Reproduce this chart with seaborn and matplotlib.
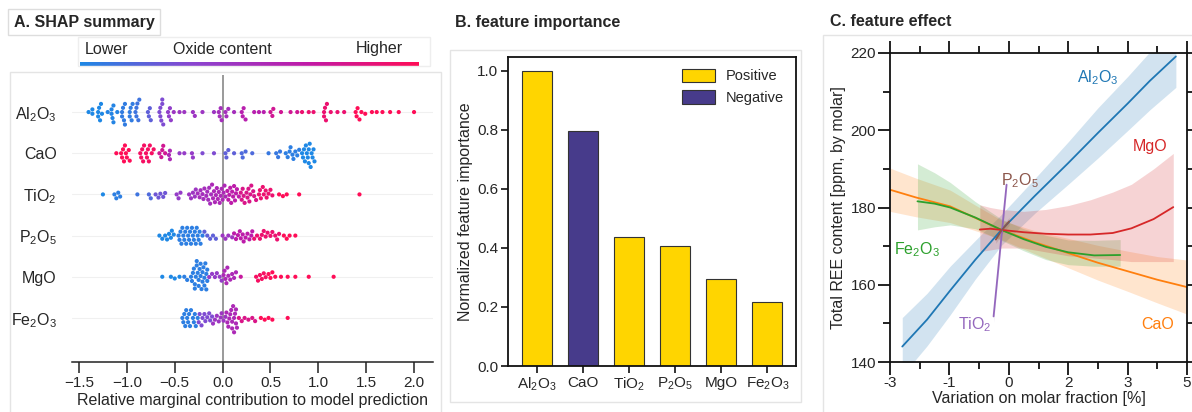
import numpy as np
import pandas as pd
import matplotlib
matplotlib.use('Agg')
import matplotlib.pyplot as plt
import seaborn as sns
from matplotlib.colors import LinearSegmentedColormap
from matplotlib.patches import Rectangle

# --- données ---
FEATURES = [r'Al$_\mathregular{2}$O$_\mathregular{3}$', 'CaO', r'TiO$_\mathregular{2}$',
            r'P$_\mathregular{2}$O$_\mathregular{5}$', 'MgO', r'Fe$_\mathregular{2}$O$_\mathregular{3}$']

# A. SHAP summary : valeurs SHAP et niveau (couleur) de chaque point
AL_SHAP = [-1.40, -1.36, -1.36, -1.30, -1.30, -1.29, -1.28, -1.27, -1.26,
           -1.20, -1.16, -1.16, -1.15, -1.14, -1.14, -1.10,
           -1.05, -1.05, -1.04, -1.03, -1.02, -1.02, -0.97, -0.97, -0.96, -0.95, -0.94,
           -0.91, -0.90, -0.90, -0.89, -0.88, -0.87, -0.78, -0.77, -0.76, -0.75,
           -0.66, -0.65, -0.65, -0.64, -0.63, -0.63, -0.62, -0.57, -0.56, -0.55, -0.54,
           -0.51, -0.45, -0.40, -0.31, -0.29, -0.21, -0.09,
           -0.04, -0.03, -0.02, -0.01, 0.03, 0.04, 0.06, 0.12,
           0.20, 0.21, 0.22, 0.24, 0.33, 0.38, 0.43,
           0.50, 0.52, 0.53, 0.61, 0.71, 0.78,
           0.83, 0.90, 0.95, 1.06, 1.06, 1.07, 1.08, 1.09, 1.13, 1.20, 1.27,
           1.39, 1.40, 1.41, 1.43, 1.45, 1.49, 1.56, 1.61, 1.67, 1.75, 1.84, 2.00]
AL_LEVEL = [0.0] * 9 + [0.02] * 7 + [0.06] * 11 + [0.1] * 6 + [0.2] * 4 + [0.3] * 7 + [0.38] * 4 \
    + [0.45] * 7 + [0.5] * 8 + [0.62] * 7 + [0.75] * 6 + [0.9] * 11 + [1.0] * 12

CAO_SHAP = [-1.11, -1.06, -1.05, -1.04, -1.03, -1.02, -1.01, -1.00, -0.98, -0.97,
            -0.86, -0.85, -0.84, -0.83, -0.82, -0.80, -0.79, -0.78, -0.77, -0.76, -0.74, -0.72,
            -0.66, -0.64, -0.63, -0.62, -0.60, -0.56, -0.55, -0.55,
            -0.45, -0.40, -0.32, -0.31, -0.21, -0.09,
            0.03, 0.04, 0.06, 0.12, 0.20, 0.21, 0.24, 0.31, 0.48, 0.56, 0.58, 0.60,
            0.66, 0.68, 0.70, 0.71, 0.73, 0.74, 0.76, 0.78, 0.80,
            0.83, 0.84, 0.85, 0.86, 0.87, 0.88, 0.89, 0.90, 0.90, 0.91, 0.92, 0.93, 0.94, 0.95, 0.96]
CAO_LEVEL = [1.0] * 10 + [0.95] * 12 + [0.75] * 5 + [0.55] * 3 + [0.4] * 4 + [0.3] * 2 \
    + [0.2] * 4 + [0.15] * 4 + [0.08] * 4 + [0.05] * 9 + [0.0] * 15

TI_SHAP = [-1.25, -1.13, -1.11, -1.09, -1.07, -0.89, -0.77, -0.75,
           -0.70, -0.67, -0.65, -0.62, -0.60, -0.48, -0.46, -0.44,
           -0.35, -0.33, -0.31, -0.29, -0.28,
           -0.26, -0.24, -0.23, -0.21, -0.20, -0.19, -0.17, -0.16, -0.15, -0.14, -0.13, -0.12,
           -0.11, -0.10, -0.09, -0.08, -0.07, -0.06, -0.05, -0.04, -0.03, -0.02, -0.01, 0.00, 0.01, 0.02, 0.03,
           0.05, 0.06, 0.07, 0.08, 0.09, 0.10, 0.11, 0.12, 0.13, 0.14, 0.15, 0.17,
           0.19, 0.20, 0.21, 0.22, 0.23, 0.25, 0.26, 0.27, 0.28, 0.29, 0.30, 0.32, 0.33, 0.35,
           0.38, 0.39, 0.40, 0.42, 0.43, 0.45, 0.46, 0.48, 0.50, 0.52,
           0.59, 0.63, 0.67, 0.80, 1.43]
TI_LEVEL = [0.0] + [0.05] * 4 + [0.1] + [0.15] * 2 + [0.25] * 5 + [0.4] * 3 + [0.45] * 5 \
    + [0.5] * 12 + [0.55] * 15 + [0.65] * 12 + [0.8] * 14 + [0.9] * 10 + [1.0] * 5

P_SHAP = [-0.66, -0.63, -0.60, -0.58, -0.56, -0.54, -0.53, -0.51,
          -0.46, -0.45, -0.44, -0.43, -0.42, -0.41, -0.40, -0.39, -0.38, -0.37, -0.36, -0.35, -0.34,
          -0.33, -0.32, -0.31, -0.30, -0.29, -0.28, -0.27, -0.26, -0.25, -0.24, -0.23, -0.21,
          -0.19, -0.16, -0.13, -0.10, -0.07, 0.00, 0.03, 0.06, 0.10,
          0.12, 0.14, 0.16, 0.18, 0.19, 0.21, 0.22, 0.24, 0.26, 0.28, 0.30, 0.31,
          0.33, 0.36, 0.39, 0.41, 0.43, 0.45, 0.47, 0.50, 0.52, 0.55, 0.57, 0.59,
          0.64, 0.67, 0.70, 0.76]
P_LEVEL = [0.0] * 8 + [0.05] * 25 + [0.2] * 5 + [0.45] * 4 + [0.65] * 12 + [0.9] * 12 + [1.0] * 4

MG_SHAP = [-0.63, -0.54, -0.50, -0.45, -0.40, -0.37, -0.33,
           -0.32, -0.31, -0.30, -0.29, -0.29, -0.28, -0.27, -0.27, -0.26, -0.25, -0.25, -0.24, -0.23,
           -0.23, -0.22, -0.21, -0.21, -0.20, -0.19, -0.19, -0.18, -0.17, -0.17, -0.16, -0.16,
           -0.14, -0.11, -0.08, -0.06, -0.03, -0.01,
           0.01, 0.02, 0.03, 0.04, 0.05, 0.06, 0.08, 0.10, 0.12, 0.14, 0.19,
           0.35, 0.37, 0.39, 0.41, 0.43, 0.45, 0.48, 0.50, 0.52, 0.55,
           0.61, 0.68, 0.76, 0.90, 1.16]
MG_LEVEL = [0.0] * 4 + [0.05] * 28 + [0.4] * 6 + [0.55] * 10 + [0.7] + [0.95] * 6 + [1.0] * 9

FE_SHAP = [-0.42, -0.41, -0.40, -0.39, -0.38, -0.37, -0.36, -0.35, -0.34, -0.33, -0.31, -0.30,
           -0.29, -0.28, -0.26, -0.25, -0.24, -0.22, -0.21, -0.19, -0.18, -0.16, -0.14, -0.13, -0.11,
           -0.10, -0.08, -0.06, -0.04, -0.02, -0.01, 0.01, 0.03,
           0.04, 0.05, 0.06, 0.07, 0.08, 0.09, 0.10, 0.10, 0.11, 0.12, 0.12, 0.13, 0.14, 0.14, 0.15,
           0.17, 0.20, 0.23, 0.27, 0.31, 0.34, 0.40, 0.44, 0.48, 0.52, 0.68]
FE_LEVEL = [0.05] * 15 + [0.3] * 10 + [0.45] * 8 + [0.55] * 15 + [0.8] * 6 + [1.0] * 5

SHAP_VALUES = [AL_SHAP, CAO_SHAP, TI_SHAP, P_SHAP, MG_SHAP, FE_SHAP]
LEVELS = [AL_LEVEL, CAO_LEVEL, TI_LEVEL, P_LEVEL, MG_LEVEL, FE_LEVEL]

# B. feature importance
IMPORTANCE = [1.0, 0.795, 0.437, 0.405, 0.295, 0.218]
SIGN = ['Positive', 'Negative', 'Positive', 'Positive', 'Positive', 'Positive']

# C. feature effect (courbes + bandes)
AL_X = [-2.67, -2.0, -1.38, -0.7, 0.0, 0.9, 1.8, 2.6, 3.4, 4.0, 4.7]
AL_Y = [144.0, 151.0, 158.5, 166.5, 174.2, 183.0, 191.5, 199.3, 206.9, 212.8, 219.1]
AL_LO = [136.5, 144.2, 152.2, 161.5, 170.2, 178.5, 186.0, 192.8, 199.9, 205.3, 211.1]
AL_HI = [151.5, 157.8, 164.8, 171.5, 178.2, 187.5, 197.0, 205.8, 213.9, 220.3, 227.1]

CA_X = [-3.0, -2.3, -1.38, -0.7, 0.0, 0.9, 1.8, 2.6, 3.4, 4.2, 5.0]
CA_Y = [184.6, 182.6, 180.3, 177.3, 174.2, 171.0, 168.2, 165.7, 163.5, 161.3, 159.4]
CA_LO = [179.0, 177.6, 176.1, 174.0, 171.7, 168.0, 164.4, 161.2, 158.3, 155.3, 152.4]
CA_HI = [190.2, 187.6, 184.5, 180.6, 176.7, 174.0, 172.0, 170.2, 168.7, 167.3, 166.4]

FE_X = [-2.26, -1.8, -1.38, -0.7, 0.0, 0.6, 1.2, 1.8, 2.5, 3.2]
FE_Y = [181.6, 181.0, 180.0, 177.4, 174.2, 171.8, 169.8, 168.4, 167.6, 167.7]
FE_LO = [174.2, 175.0, 175.5, 174.5, 171.5, 168.8, 166.5, 165.2, 164.8, 164.8]
FE_HI = [191.3, 189.0, 186.5, 181.5, 177.0, 174.5, 172.8, 171.6, 171.5, 171.7]

MG_X = [-0.58, -0.3, 0.0, 0.6, 1.2, 1.8, 2.4, 3.0, 3.5, 4.1, 4.63]
MG_Y = [174.3, 174.5, 174.2, 173.6, 173.2, 173.0, 173.0, 173.4, 174.6, 177.0, 180.1]
MG_LO = [168.6, 169.0, 169.5, 169.5, 168.5, 167.5, 167.0, 166.5, 166.0, 166.0, 166.0]
MG_HI = [180.7, 180.0, 179.5, 179.0, 179.5, 180.5, 182.0, 184.0, 186.0, 190.0, 194.0]

TI_X = [-0.21, -0.1, 0.0, 0.07, 0.14]
TI_Y = [151.8, 162.5, 172.3, 179.1, 185.9]
TI_LO = [150.3, 161.0, 170.8, 177.6, 184.4]
TI_HI = [153.3, 164.0, 173.8, 180.6, 187.4]

P_X = [-0.15, 0.0, 0.21]
P_Y = [171.7, 174.0, 176.4]
P_LO = [170.7, 173.0, 175.4]
P_HI = [172.7, 175.0, 177.4]

X_TICK_LABELS = ['-3', '-1', '0', '2', '3', '5']

# --- style ---
sns.set_theme(style='white')
plt.rcParams['font.family'] = ['Liberation Sans', 'DejaVu Sans']
plt.rcParams['axes.unicode_minus'] = True

W, H = 1192, 412
fig = plt.figure(figsize=(W / 100, H / 100), dpi=100)


def fx(px):
    return px / W


def fy(py):
    return 1 - py / H


def frame(x0, y0, x1, y1, color='#e4e4e4'):
    fig.patches.append(Rectangle((fx(x0), fy(y1)), fx(x1) - fx(x0), fy(y0) - fy(y1),
                                 transform=fig.transFigure, fill=False, ec=color, lw=1.0))


# cadres légers autour des panneaux
frame(10, 72, 441, 420)
frame(450, 50, 801, 402)
frame(823, 35, 1200, 420)

shap_cmap = LinearSegmentedColormap.from_list('shap', ['#1e88e5', '#8a45d0', '#c01aa8', '#ff0d57'])

# ---------------- A. SHAP summary ----------------
rows = []
for name, xs, lv in zip(FEATURES, SHAP_VALUES, LEVELS):
    for x, l in zip(xs, lv):
        rows.append((name, x, l))
df_shap = pd.DataFrame(rows, columns=['feature', 'shap', 'level'])

axA = fig.add_axes([fx(72), fy(362), fx(433) - fx(72), fy(75) - fy(362)])
axA.axvline(0, color='#9a9a9a', lw=1.4, zorder=0)
sns.swarmplot(data=df_shap, x='shap', y='feature', hue='level', order=FEATURES,
              palette=shap_cmap, hue_norm=(0, 1), size=3.0, linewidth=0,
              legend=False, orient='h', ax=axA)
axA.set_xlim(-1.573, 2.198)
axA.set_ylim(6.07, -0.9)
axA.set_xticks([-1.5, -1.0, -0.5, 0.0, 0.5, 1.0, 1.5, 2.0])
axA.set_xticklabels(['\u22121.5', '\u22121.0', '\u22120.5', '0.0', '0.5', '1.0', '1.5', '2.0'])
axA.set_xlabel('Relative marginal contribution to model prediction', fontsize=11.5, labelpad=2)
axA.set_ylabel('')
for sp in ['top', 'right', 'left']:
    axA.spines[sp].set_visible(False)
axA.spines['bottom'].set_color('#222222')
axA.spines['bottom'].set_linewidth(1.1)
axA.tick_params(axis='x', length=8, width=1.1, color='#222222', labelsize=11, pad=2, bottom=True)
axA.tick_params(axis='y', length=0, labelsize=11.5, pad=11)
for y in range(len(FEATURES)):
    axA.axhline(y, color='#f0f0f0', lw=0.8, zorder=-1)

# barre de couleur
fig.text(fx(14), fy(22), 'A. SHAP summary', fontsize=11.5, fontweight='bold', va='center',
         bbox=dict(boxstyle='square,pad=0.35', fc='white', ec='#dddddd', lw=1.0))
frame(78, 37, 430, 66, color='#eeeeee')
axCb = fig.add_axes([fx(80), fy(66), fx(419) - fx(80), fy(62) - fy(66)])
axCb.imshow(np.linspace(0, 1, 256).reshape(1, -1), cmap=shap_cmap, aspect='auto')
axCb.axis('off')
fig.text(fx(85), fy(49), 'Lower', fontsize=11.5, va='center')
fig.text(fx(173), fy(49), 'Oxide content', fontsize=11.5, va='center')
fig.text(fx(356), fy(49), 'Higher', fontsize=11.5, va='center')

# ---------------- B. feature importance ----------------
axB = fig.add_axes([fx(508), fy(366), fx(796) - fx(508), fy(57) - fy(366)])
sns.barplot(x=FEATURES, y=IMPORTANCE, hue=SIGN, order=FEATURES,
            palette={'Positive': '#ffd500', 'Negative': '#473b8b'}, saturation=1,
            dodge=False, width=0.65, edgecolor='#333333', linewidth=0.8, ax=axB)
axB.set_xlim(-0.62, 5.62)
axB.set_ylim(0, 1.047)
axB.set_yticks([0.0, 0.2, 0.4, 0.6, 0.8, 1.0])
axB.set_ylabel('Normalized feature importance', fontsize=11.5, labelpad=3)
for sp in axB.spines.values():
    sp.set_color('#111111')
    sp.set_linewidth(1.3)
axB.tick_params(axis='both', length=5, width=1.2, color='#111111', labelsize=11, pad=2,
                left=True, bottom=True)
sns.move_legend(axB, 'upper right', title=None, frameon=False, fontsize=10.5,
                handlelength=2.2, handleheight=1.0, labelspacing=0.5, borderaxespad=0.4)
fig.text(fx(455), fy(22), 'B. feature importance', fontsize=11.5, fontweight='bold', va='center')

# ---------------- C. feature effect ----------------
axC = fig.add_axes([fx(890), fy(362), fx(1187) - fx(890), fy(53) - fy(362)])
curves = [
    (AL_X, AL_Y, AL_LO, AL_HI, '#1f77b4'),
    (CA_X, CA_Y, CA_LO, CA_HI, '#ff7f0e'),
    (FE_X, FE_Y, FE_LO, FE_HI, '#2ca02c'),
    (MG_X, MG_Y, MG_LO, MG_HI, '#d62728'),
    (TI_X, TI_Y, TI_LO, TI_HI, '#9467bd'),
    (P_X, P_Y, P_LO, P_HI, '#8c564b'),
]
for xs, ys, lo, hi, col in curves:
    axC.fill_between(xs, lo, hi, color=col, alpha=0.2, lw=0)
for xs, ys, lo, hi, col in curves:
    sns.lineplot(x=xs, y=ys, color=col, lw=1.3, sort=False, estimator=None, ax=axC)

labels_c = [
    (2.6, 213.6, r'Al$_\mathregular{2}$O$_\mathregular{3}$', '#1f77b4'),
    (4.0, 195.8, 'MgO', '#d62728'),
    (0.5, 187.0, r'P$_\mathregular{2}$O$_\mathregular{5}$', '#8c564b'),
    (-2.28, 169.0, r'Fe$_\mathregular{2}$O$_\mathregular{3}$', '#2ca02c'),
    (-0.71, 149.7, r'TiO$_\mathregular{2}$', '#9467bd'),
    (4.22, 149.7, 'CaO', '#ff7f0e'),
]
for x, y, t, col in labels_c:
    axC.text(x, y, t, color=col, fontsize=11.5, ha='center', va='center')

axC.set_xlim(-3, 5)
axC.set_ylim(140, 220)
major_x = np.linspace(-3, 5, 6)
axC.set_xticks(major_x)
axC.set_xticklabels(X_TICK_LABELS)
axC.set_xticks((major_x[:-1] + major_x[1:]) / 2, minor=True)
axC.set_yticks([140, 160, 180, 200, 220])
axC.set_yticks([150, 170, 190, 210], minor=True)
for sp in axC.spines.values():
    sp.set_color('#111111')
    sp.set_linewidth(1.3)
axC.tick_params(which='major', direction='out', length=9, width=1.3, color='#111111',
                top=True, right=True, bottom=True, left=True, labelsize=11, pad=1)
axC.tick_params(which='minor', direction='out', length=5, width=1.3, color='#111111',
                top=True, right=True, bottom=True, left=True)
axC.set_xlabel('Variation on molar fraction [%]', fontsize=11.5, labelpad=1)
axC.set_ylabel('Total REE content [ppm, by molar]', fontsize=11.5, labelpad=3)
fig.text(fx(830), fy(22), 'C. feature effect', fontsize=11.5, fontweight='bold', va='center')

fig.savefig('out.png', dpi=100)
